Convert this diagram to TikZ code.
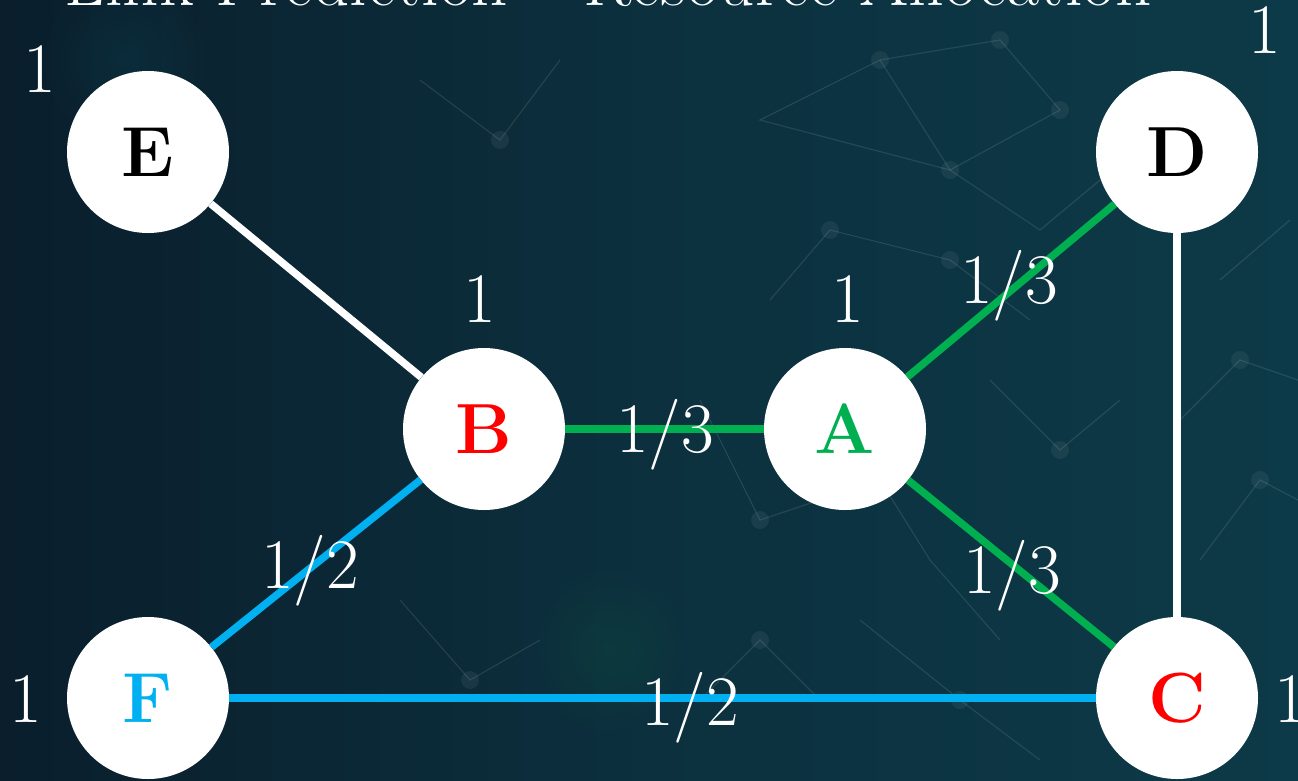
\documentclass[tikz,border=0pt]{standalone}
\definecolor{bgL}{RGB}{10,30,44}
\definecolor{bgM}{RGB}{12,48,62}
\definecolor{bgR}{RGB}{13,58,72}
\definecolor{glow}{RGB}{20,110,110}
\definecolor{eg}{RGB}{0,176,80}
\definecolor{eb}{RGB}{0,176,240}
\definecolor{er}{RGB}{255,0,0}
\tikzset{
  vtx/.style={circle,fill=white,minimum size=162pt,inner sep=0pt,font=\fontsize{71}{85}\selectfont\bfseries},
  lbl/.style={text=white,inner sep=0pt,anchor=base,font=\fontsize{71}{85}\selectfont},
  wedge/.style={line width=7.5pt,white},
  gedge/.style={line width=7.5pt,eg},
  bedge/.style={line width=7.5pt,eb},
  tex/.style={white,opacity=0.10,line width=1.2pt},
  dot/.style={white,opacity=0.06}
}
\begin{document}
\begin{tikzpicture}[x=1pt,y=-1pt]
\useasboundingbox (0,0) rectangle (1298,780);
\clip (0,0) rectangle (1298,780);
\shade[left color=bgL,right color=bgR,middle color=bgM] (0,0) rectangle (1298,780);
% soft glows
\foreach \r in {8,16,...,80}{
  \fill[glow,opacity=0.022] (125,60) circle (\r);
  \fill[glow,opacity=0.018] (610,650) circle (\r);
}
\foreach \r in {10,20,...,130}{
  \fill[glow,opacity=0.012] (40,450) circle (\r);
}
% faint network texture
\draw[tex] (760,120) -- (880,60) -- (1000,40) -- (1060,110) -- (950,170) -- cycle;
\draw[tex] (880,60) -- (950,170) -- (1040,230) -- (1100,180);
\draw[tex] (770,300) -- (830,230) -- (950,260) -- (1030,320);
\draw[tex] (700,400) -- (760,520) -- (880,480) -- (930,560) -- (1000,640);
\draw[tex] (1180,420) -- (1240,360) -- (1298,380);
\draw[tex] (1200,560) -- (1260,480) -- (1298,500);
\draw[tex] (1220,280) -- (1290,220);
\draw[tex] (860,620) -- (960,700) -- (1040,760);
\draw[tex] (700,700) -- (760,640) -- (820,700);
\draw[tex] (400,600) -- (470,680) -- (540,640);
\draw[tex] (420,80) -- (500,140) -- (560,60);
\draw[tex] (990,380) -- (1060,450) -- (1120,400);
\foreach \p in {(880,60),(1000,40),(1060,110),(950,170),(830,230),(950,260),(760,520),(880,480),(1240,360),(1260,480),(960,700),(760,640),(470,680),(500,140),(1060,450)}{
  \fill[dot] \p circle (9);
}
% title
\node[lbl] (title) at (608,5) {Link Prediction -- Resource Allocation};
% vertices
\node[vtx] (E) at (148,152) {E};
\node[vtx] (D) at (1177,152) {D};
\node[vtx,text=er] (B) at (484,429) {B};
\node[vtx,text=eg] (A) at (845,429) {A};
\node[vtx,text=eb] (F) at (148,698) {F};
\node[vtx,text=er] (C) at (1177,698) {C};
% edges
\draw[wedge] (E) -- (B);
\draw[wedge] (D) -- (C);
\draw[gedge] (B) -- (A);
\draw[gedge] (A) -- (D);
\draw[gedge] (A) -- (C);
\draw[bedge] (B) -- (F);
\draw[bedge] (F) -- (C);
% vertex weights
\node[lbl] (wE) at (40,92) {1};
\node[lbl] (wD) at (1265,53) {1};
\node[lbl] (wB) at (480,322) {1};
\node[lbl] (wA) at (848,322) {1};
\node[lbl] (wF) at (26,722) {1};
\node[lbl,anchor=base west] (wC) at (1274,722) {1};
% edge weights
\node[lbl] (lBA) at (665,452) {1/3};
\node[lbl] (lAD) at (1009,303) {1/3};
\node[lbl] (lAC) at (1012,593) {1/3};
\node[lbl] (lBF) at (310,588) {1/2};
\node[lbl] (lFC) at (690,725) {1/2};
\end{tikzpicture}
\end{document}
